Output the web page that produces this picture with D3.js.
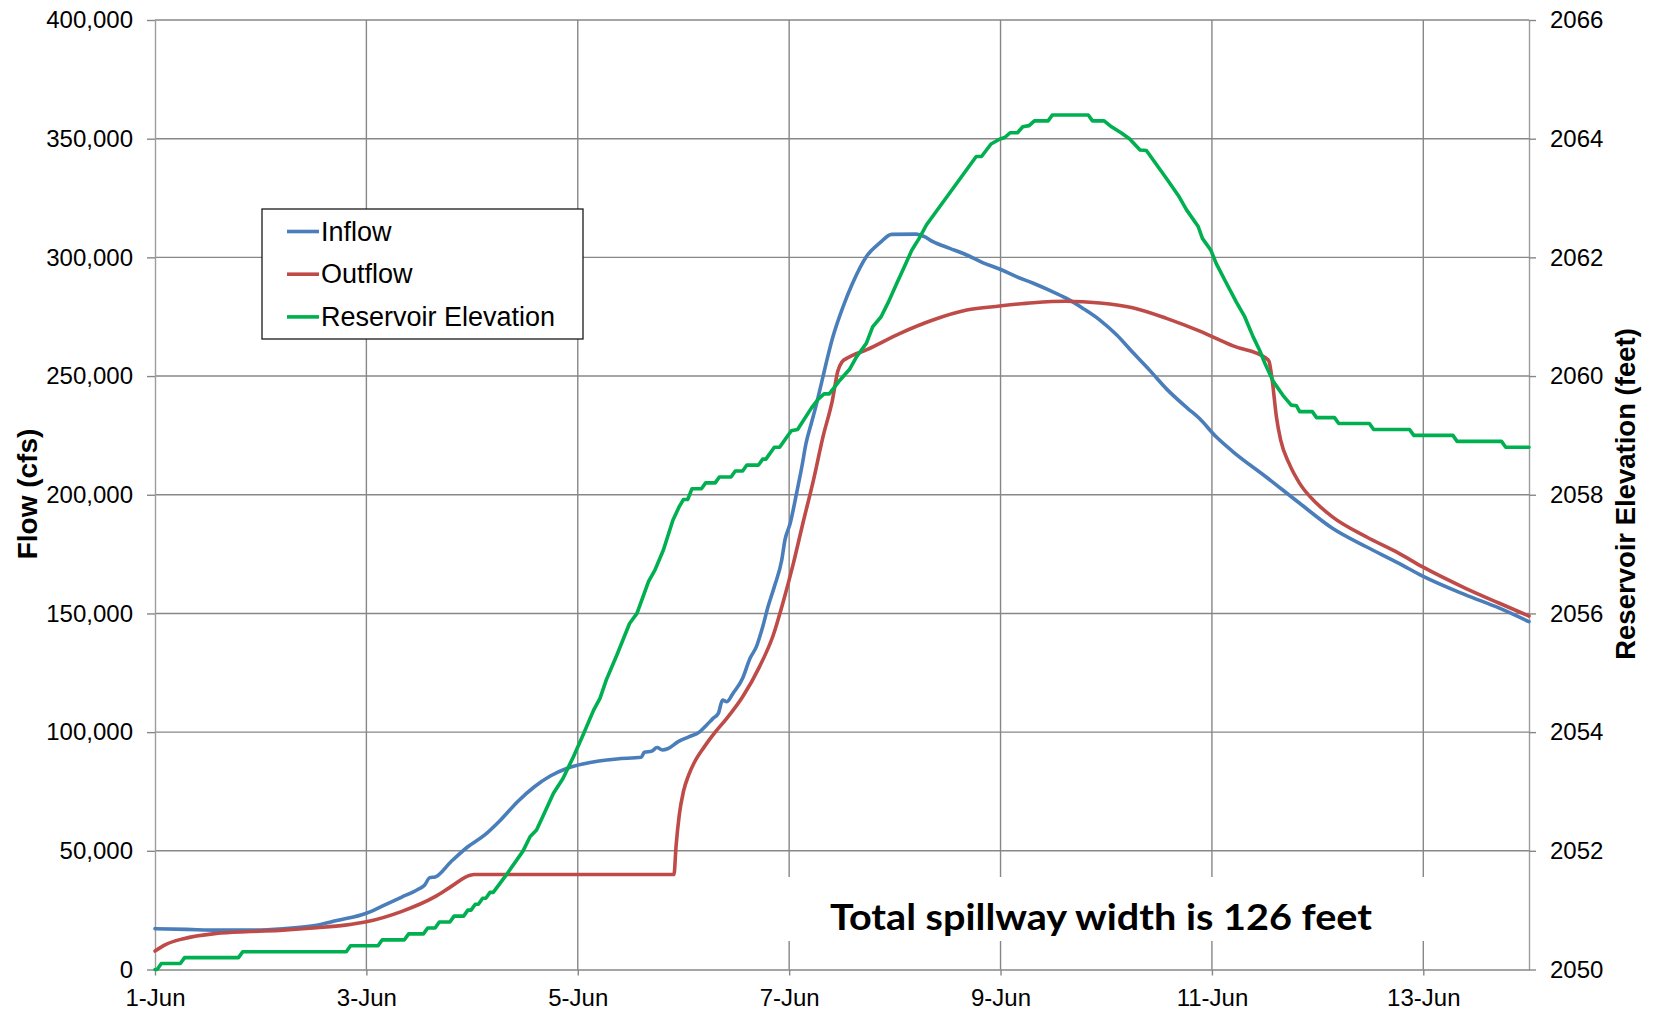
<!DOCTYPE html>
<html>
<head>
<meta charset="utf-8">
<script src="https://cdn.jsdelivr.net/npm/d3@7"></script>
<style>
  html, body { margin: 0; padding: 0; background: #ffffff; }
  svg { display: block; }
</style>
</head>
<body>
<svg id="chart" width="1655" height="1011"></svg>
<script>
// ---- Data -------------------------------------------------------------
// Time is given in days after 1-Jun 00:00.
const startDate = Date.UTC(2011, 5, 1);
const xTickDays = [0, 2, 4, 6, 8, 10, 12];
const flowTicks = [0, 50000, 100000, 150000, 200000, 250000, 300000, 350000, 400000];
const elevTicks = [2050, 2052, 2054, 2056, 2058, 2060, 2062, 2064, 2066];
const seriesNames = ["Inflow", "Outflow", "Reservoir Elevation"];
const seriesColors = ["#4A7EBB", "#BE4B48", "#00B050"];
const flowTitle = "Flow (cfs)";
const elevTitle = "Reservoir Elevation (feet)";
const noteText = "Total spillway width is 126 feet";

// Inflow, cfs
const inflow = [
  [0, 17200], [0.3, 16900], [0.6, 16600], [0.9, 16600], [1.21, 17200], [1.53, 18600],
  [1.72, 20600], [2.0, 23700], [2.16, 26900], [2.33, 30400], [2.49, 33800], [2.55, 35500],
  [2.6, 38700], [2.65, 39000], [2.8, 45400], [2.96, 51700], [3.12, 56700], [3.27, 63000],
  [3.43, 70700], [3.59, 77000], [3.74, 81500], [3.9, 84800], [4.05, 86600], [4.2, 87800],
  [4.37, 88700], [4.6, 89400], [4.63, 91500], [4.7, 92000], [4.75, 93500], [4.8, 92500],
  [4.85, 93000], [4.95, 96000], [5.05, 98000], [5.15, 100000], [5.22, 103000], [5.28, 105800],
  [5.33, 107900], [5.37, 113500], [5.41, 112800], [5.47, 116400], [5.56, 122700], [5.63, 131100],
  [5.69, 136000], [5.75, 144400], [5.8, 152800], [5.86, 161300], [5.93, 172500], [5.96, 180900],
  [6.01, 188000], [6.07, 200600], [6.12, 211800], [6.16, 221700], [6.21, 230100], [6.26, 238500],
  [6.29, 244100], [6.35, 255400], [6.41, 265900], [6.51, 279200], [6.6, 289100], [6.73, 300300],
  [6.86, 306200], [6.97, 309700], [7.2, 309800], [7.28, 308700], [7.36, 306600], [7.52, 303800],
  [7.68, 301000], [7.83, 297800], [7.99, 295100], [8.15, 291900], [8.31, 289100], [8.46, 286200],
  [8.62, 282800], [8.78, 278500], [8.94, 273600], [9.1, 267300], [9.25, 260000], [9.41, 252500],
  [9.57, 244600], [9.77, 236400], [9.88, 232200], [10.04, 224400], [10.2, 218100], [10.51, 207600],
  [10.83, 196400], [11.14, 185900], [11.46, 178100], [11.77, 171100], [11.99, 165800],
  [12.4, 157800], [12.72, 152200], [13.0, 146500]
];

// Outflow, cfs
const outflow = [
  [0, 7800], [0.1, 10500], [0.27, 13000], [0.58, 15200], [0.9, 16000], [1.21, 16600],
  [1.53, 17600], [1.8, 18700], [2.0, 20100], [2.33, 24400], [2.65, 30700], [2.8, 34900],
  [2.98, 39700], [3.02, 40000], [4.91, 40000], [4.93, 52000], [4.96, 65000], [5.0, 75000],
  [5.05, 82000], [5.1, 87000], [5.2, 94000], [5.3, 100000], [5.41, 105800], [5.56, 114900],
  [5.72, 127600], [5.85, 140900], [5.94, 154300], [6.04, 171100], [6.13, 188000], [6.23, 206200],
  [6.32, 224400], [6.41, 240000], [6.46, 252000], [6.5, 256000], [6.56, 257800], [6.73, 261000],
  [7.05, 268000], [7.36, 273600], [7.68, 277800], [7.99, 279500], [8.31, 280900], [8.62, 281500],
  [8.94, 280800], [9.25, 278800], [9.57, 274300], [9.88, 269000], [10.2, 262700], [10.51, 257600],
  [10.54, 256200], [10.57, 248300], [10.61, 232900], [10.65, 223100], [10.73, 213200],
  [10.83, 204800], [10.99, 196400], [11.14, 190700], [11.46, 182300], [11.77, 175300],
  [11.99, 169700], [12.4, 160600], [12.72, 154300], [13.0, 148900]
];

// Reservoir elevation, feet
const elevation = [
  [0, 2050.0], [0.02, 2050.0], [0.06, 2050.1], [0.24, 2050.1], [0.28, 2050.2], [0.79, 2050.2],
  [0.83, 2050.3], [1.81, 2050.3], [1.85, 2050.4], [2.11, 2050.4], [2.15, 2050.5], [2.36, 2050.5],
  [2.4, 2050.6], [2.54, 2050.6], [2.58, 2050.7], [2.65, 2050.7], [2.69, 2050.8], [2.79, 2050.8],
  [2.83, 2050.9], [2.92, 2050.9], [2.96, 2051.0], [2.99, 2051.0], [3.03, 2051.1], [3.06, 2051.1],
  [3.1, 2051.2], [3.13, 2051.2], [3.17, 2051.3], [3.2, 2051.3], [3.31, 2051.56], [3.48, 2051.99],
  [3.55, 2052.24], [3.61, 2052.35], [3.69, 2052.66], [3.77, 2052.97], [3.86, 2053.22],
  [3.96, 2053.59], [4.05, 2053.95], [4.15, 2054.37], [4.21, 2054.57], [4.27, 2054.88],
  [4.37, 2055.3], [4.49, 2055.83], [4.56, 2056.0], [4.67, 2056.54], [4.73, 2056.73],
  [4.81, 2057.07], [4.9, 2057.57], [4.96, 2057.8], [5.0, 2057.92], [5.04, 2057.92],
  [5.08, 2058.1], [5.17, 2058.1], [5.21, 2058.2], [5.3, 2058.2], [5.34, 2058.3], [5.45, 2058.3],
  [5.49, 2058.4], [5.56, 2058.4], [5.6, 2058.5], [5.71, 2058.5], [5.75, 2058.6], [5.78, 2058.6],
  [5.86, 2058.8], [5.91, 2058.8], [6.02, 2059.08], [6.08, 2059.1], [6.21, 2059.46], [6.27, 2059.6],
  [6.33, 2059.7], [6.38, 2059.7], [6.48, 2059.93], [6.57, 2060.11], [6.64, 2060.33],
  [6.73, 2060.55], [6.79, 2060.83], [6.87, 2061.0], [6.94, 2061.25], [7.01, 2061.53],
  [7.09, 2061.84], [7.16, 2062.12], [7.23, 2062.32], [7.3, 2062.55], [7.77, 2063.7],
  [7.82, 2063.7], [7.91, 2063.91], [7.99, 2063.99], [8.04, 2064.02], [8.09, 2064.1],
  [8.16, 2064.1], [8.21, 2064.2], [8.27, 2064.22], [8.32, 2064.3], [8.45, 2064.3],
  [8.49, 2064.4], [8.83, 2064.4], [8.87, 2064.3], [8.98, 2064.3], [9.05, 2064.2], [9.14, 2064.1],
  [9.22, 2064.0], [9.32, 2063.81], [9.38, 2063.8], [9.57, 2063.33], [9.69, 2063.02],
  [9.76, 2062.8], [9.87, 2062.52], [9.91, 2062.32], [9.99, 2062.12], [10.04, 2061.9],
  [10.13, 2061.59], [10.23, 2061.25], [10.31, 2061.0], [10.39, 2060.66], [10.45, 2060.44],
  [10.5, 2060.22], [10.58, 2059.91], [10.67, 2059.68], [10.75, 2059.51], [10.8, 2059.5],
  [10.83, 2059.4], [10.95, 2059.4], [10.99, 2059.3], [11.16, 2059.3], [11.2, 2059.2],
  [11.49, 2059.2], [11.53, 2059.1], [11.87, 2059.1], [11.91, 2059.0], [12.28, 2059.0],
  [12.32, 2058.9], [12.74, 2058.9], [12.78, 2058.8], [13.0, 2058.8]
];

// ---- Layout -----------------------------------------------------------
const plot = { left: 155, right: 1529, top: 20, bottom: 969.5 };
const DAY = 86400000;
const toDate = d => new Date(startDate + d * DAY);
const font = "'Liberation Sans', Arial, sans-serif";
const gridColor = "#878787";
const axisColor = "#9d9d9d";

const x = d3.scaleUtc().domain([toDate(0), toDate(13)]).range([plot.left, plot.right]);
const yFlow = d3.scaleLinear().domain([0, 400000]).range([plot.bottom, plot.top]);
const yElev = d3.scaleLinear().domain([2050, 2066]).range([plot.bottom, plot.top]);

const svg = d3.select("#chart");
svg.append("rect").attr("width", 1655).attr("height", 1011).attr("fill", "#fff");

// Gridlines
const grid = svg.append("g").attr("stroke", gridColor).attr("stroke-width", 1.4);
grid.selectAll("line.h").data(flowTicks.filter(v => v > 0)).join("line")
  .attr("x1", plot.left).attr("x2", plot.right)
  .attr("y1", d => yFlow(d)).attr("y2", d => yFlow(d));
grid.selectAll("line.v").data(xTickDays.filter(d => d > 0)).join("line")
  .attr("x1", d => x(toDate(d))).attr("x2", d => x(toDate(d)))
  .attr("y1", plot.top).attr("y2", plot.bottom);

// Axes
function styleAxis(g, lineColor) {
  g.selectAll(".domain").attr("stroke", lineColor).attr("stroke-width", 1.4);
  g.selectAll(".tick line").attr("stroke", gridColor).attr("stroke-width", 1.4);
  g.selectAll(".tick text").attr("fill", "#000").style("font-family", font).style("font-size", "24px");
}

svg.append("g").attr("transform", `translate(0,${plot.bottom})`)
  .call(d3.axisBottom(x).tickValues(xTickDays.map(toDate))
    .tickFormat(d3.utcFormat("%-d-%b")).tickSize(6).tickSizeOuter(0).tickPadding(13))
  .call(g => styleAxis(g, gridColor));

svg.append("g").attr("transform", `translate(${plot.left},0)`)
  .call(d3.axisLeft(yFlow).tickValues(flowTicks).tickFormat(d3.format(","))
    .tickSize(8).tickSizeOuter(0).tickPadding(14))
  .call(g => styleAxis(g, axisColor));

svg.append("g").attr("transform", `translate(${plot.right},0)`)
  .call(d3.axisRight(yElev).tickValues(elevTicks).tickFormat(d3.format("d"))
    .tickSize(7).tickSizeOuter(0).tickPadding(14))
  .call(g => styleAxis(g, axisColor));

// Axis titles
svg.append("text")
  .attr("transform", "translate(27,494) rotate(-90)")
  .attr("text-anchor", "middle").attr("dominant-baseline", "central")
  .style("font-family", font).style("font-size", "28px").style("font-weight", "bold")
  .text(flowTitle);
svg.append("text")
  .attr("transform", "translate(1625,494) rotate(-90)")
  .attr("text-anchor", "middle").attr("dominant-baseline", "central")
  .style("font-family", font).style("font-size", "27.5px").style("font-weight", "bold")
  .text(elevTitle);

// Spillway note (its box hides the gridlines behind it)
svg.append("rect").attr("x", 760).attr("y", 877).attr("width", 685).attr("height", 64).attr("fill", "#fff");
svg.append("text")
  .attr("x", 1101).attr("y", 930).attr("text-anchor", "middle")
  .attr("textLength", 542).attr("lengthAdjust", "spacingAndGlyphs")
  .style("font-family", "Lato, 'Open Sans', sans-serif").style("font-size", "37px").style("font-weight", "bold")
  .text(noteText);

// Series lines
const flowLine = d3.line().x(d => x(toDate(d[0]))).y(d => yFlow(d[1])).curve(d3.curveMonotoneX);
const elevLine = d3.line().x(d => x(toDate(d[0]))).y(d => yElev(d[1]));
const lines = svg.append("g").attr("fill", "none").attr("stroke-width", 3.6)
  .attr("stroke-linejoin", "round").attr("stroke-linecap", "round");
lines.append("path").attr("d", flowLine(inflow)).attr("stroke", seriesColors[0]);
lines.append("path").attr("d", flowLine(outflow)).attr("stroke", seriesColors[1]);
lines.append("path").attr("d", elevLine(elevation)).attr("stroke", seriesColors[2]);

// Legend
const legend = svg.append("g").attr("transform", "translate(262,209)");
legend.append("rect").attr("width", 321).attr("height", 130)
  .attr("fill", "#fff").attr("stroke", "#1a1a1a").attr("stroke-width", 1.3);
const rows = legend.selectAll("g.row").data(seriesNames).join("g")
  .attr("transform", (d, i) => `translate(0,${22.5 + i * 42.7})`);
rows.append("line").attr("x1", 25).attr("x2", 57).attr("y1", 0).attr("y2", 0)
  .attr("stroke", (d, i) => seriesColors[i]).attr("stroke-width", 3.6);
rows.append("text").attr("x", 59).attr("y", 0).attr("dominant-baseline", "central")
  .style("font-family", font).style("font-size", "27px").text(d => d);
</script>
</body>
</html>
